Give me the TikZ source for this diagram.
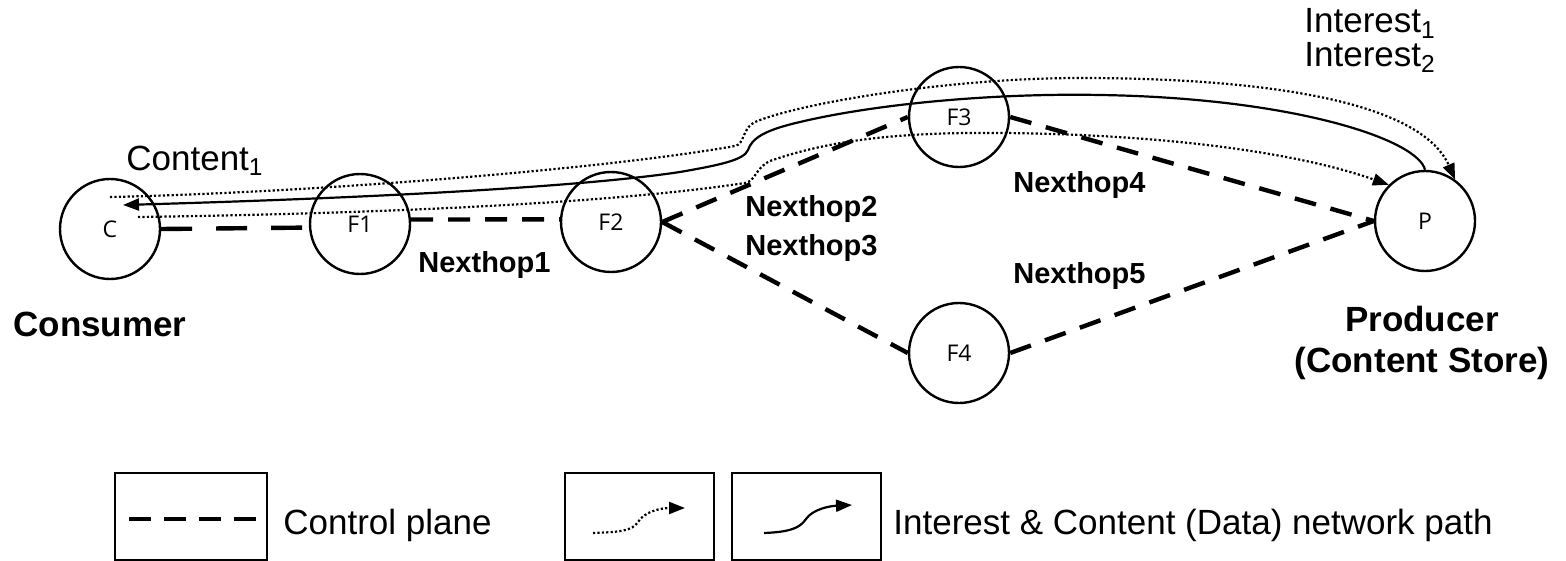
\documentclass[tikz,border=0pt]{standalone}
\usepackage{fontspec}
\setmainfont{Liberation Sans}
\newfontfamily\circfont{Open Sans}
\usetikzlibrary{arrows.meta}

\begin{document}
\begin{tikzpicture}[x=0.5pt,y=-0.5pt,
  station/.style={circle,draw,line width=1.2pt,minimum size=50pt,inner sep=0pt,
    font=\circfont\fontsize{11.5}{13}\selectfont},
  ctrl/.style={line width=2.2pt,dash pattern=on 11pt off 7.5pt},
  datapath/.style={line width=1.1pt,-{Triangle[length=8pt,width=6pt]}},
  interestpath/.style={line width=1.1pt,dash pattern=on 1.1pt off 1.1pt,
    -{Triangle[length=8pt,width=6pt]}},
  hoplabel/.style={font=\bfseries\fontsize{14.5}{16}\selectfont,inner sep=0pt,anchor=base west},
  rolelabel/.style={font=\bfseries\fontsize{17.5}{20}\selectfont,inner sep=0pt},
  msglabel/.style={font=\fontsize{17.5}{20}\selectfont,inner sep=0pt,anchor=base west},
  legendbox/.style={draw,line width=1.2pt,minimum width=74.5pt,minimum height=43.5pt,inner sep=0pt},
]
\useasboundingbox (0,0) rectangle (1566,561);

% routers
\node[station] (C)  at (110,229)  {C};
\node[station] (F1) at (360,224)  {F1};
\node[station] (F2) at (611,222)  {F2};
\node[station] (F3) at (959,117)  {F3};
\node[station] (F4) at (959,353)  {F4};
\node[station] (P)  at (1425,221) {P};

% control plane links
\draw[ctrl,dash pattern=on 15.5pt off 12pt] (C.east) -- (F1.184);
\draw[ctrl] (F1.5)    -- (F2.177);
\draw[ctrl] (F2.east) -- (F3.west);
\draw[ctrl] (F2.east) -- (F4.west);
\draw[ctrl] (F3.east) -- (P.west);
\draw[ctrl] (F4.east) -- (P.west);

% free ends inside the consumer
\coordinate (cTip)       at (123,205);
\coordinate (iOutStart)  at (110,197);
\coordinate (iInStart)   at (138,217);

% content returned from the producer
\draw[datapath] (P.north) .. controls (1418,140) and (1295,98) .. (1100,95)
  .. controls (1000,93) and (880,103) .. (800,122)
  .. controls (765,130) and (752,138) .. (748,150)
  .. controls (744,160) and (720,165) .. (680,172)
  .. controls (560,190) and (300,200) .. (cTip);

% interests sent towards the producer
\draw[interestpath] (iOutStart) .. controls (300,193) and (600,170) .. (735,146)
  .. controls (745,144) and (742,128) .. (755,122)
  .. controls (800,103) and (950,78) .. (1080,78)
  .. controls (1260,78) and (1420,100) .. (P.54);
\draw[interestpath] (iInStart) .. controls (350,214) and (600,205) .. (745,183)
  .. controls (756,181) and (755,168) .. (770,161)
  .. controls (830,140) and (900,132) .. (1000,133)
  .. controls (1150,134) and (1290,150) .. (P.135);

% labels
\node[msglabel] (lblContent) at (126,170) {Content\textsubscript{1}};
\node[msglabel] (lblInt1) at (1304,33) {Interest\textsubscript{1}};
\node[msglabel] (lblInt2) at (1304,67) {Interest\textsubscript{2}};
\node[hoplabel] (nh1) at (418,272)  {Nexthop1};
\node[hoplabel] (nh2) at (745,216)  {Nexthop2};
\node[hoplabel] (nh3) at (745,255)  {Nexthop3};
\node[hoplabel] (nh4) at (1013,192) {Nexthop4};
\node[hoplabel] (nh5) at (1013,283) {Nexthop5};
\node[rolelabel,anchor=base west] (cons) at (13,336) {Consumer};
\node[rolelabel,anchor=base] (prod)  at (1422,331) {Producer};
\node[rolelabel,anchor=base] (store) at (1422,372) {(Content Store)};

% legend
\node[legendbox,minimum width=76pt] (boxA) at (191,516.5) {};
\node[legendbox] (boxB) at (639.5,516.5) {};
\node[legendbox] (boxC) at (806.5,516.5) {};
\coordinate (lgDashS) at (129,519);
\coordinate (lgDashE) at (256,519);
\draw[line width=2.2pt,dash pattern=on 11pt off 6.5pt] (lgDashS) -- (lgDashE);
\coordinate (lgDotS) at (593,533);
\coordinate (lgDotE) at (685,508);
\draw[interestpath] (lgDotS) .. controls (620,532) and (632,531) .. (638,522)
  .. controls (644,512) and (660,508) .. (lgDotE);
\coordinate (lgSolS) at (764,533);
\coordinate (lgSolE) at (852,505);
\draw[datapath] (lgSolS) .. controls (790,532) and (800,528) .. (806,519)
  .. controls (813,509) and (830,506) .. (lgSolE);
\node[msglabel] (lgCtrl) at (283,534) {Control plane};
\node[msglabel] (lgPath) at (893,534) {Interest \& Content (Data) network path};
\end{tikzpicture}
\end{document}
